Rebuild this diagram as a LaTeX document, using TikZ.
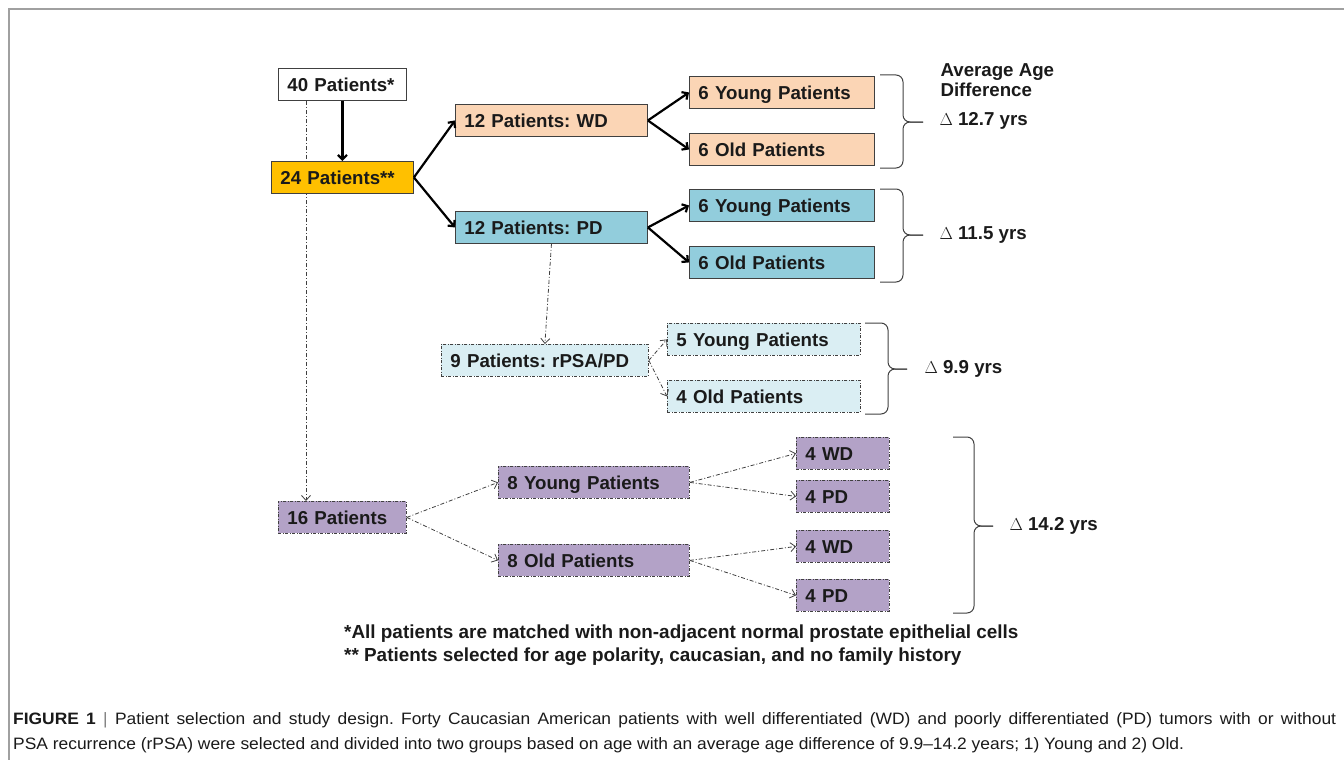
\documentclass[tikz,border=0pt]{standalone}
\usepackage{fontspec}
\setmainfont{Liberation Sans}
\newfontfamily\capfont[FakeStretch=1.055]{Liberation Sans}
\usetikzlibrary{arrows.meta,calc}
\frenchspacing

\definecolor{boxline}{HTML}{404040}
\definecolor{txtdark}{HTML}{1A1A1A}
\definecolor{gold}{HTML}{FFC000}
\definecolor{peach}{HTML}{FBD5B5}
\definecolor{pdblue}{HTML}{92CDDC}
\definecolor{rpsablue}{HTML}{DAEEF3}
\definecolor{lilac}{HTML}{B3A2C7}
\definecolor{framegray}{HTML}{A0A0A0}

\begin{document}
\begin{tikzpicture}[x=1pt, y=-1pt]
    \tikzstyle{pbox}=[draw=boxline, line width=0.9pt, anchor=north west, minimum height=32pt,
        inner xsep=9pt, inner ysep=0pt, text height=13.4pt, text depth=0pt, align=left,
        text=txtdark, font=\bfseries\fontsize{18.7}{20}\selectfont]
    \tikzstyle{dbox}=[pbox, dash pattern=on 3pt off 1.5pt on 1pt off 1.5pt, line width=0.8pt]
    \tikzstyle{marr}=[line width=2.2pt, -{Straight Barb[length=4.5pt,width=9pt]}]
    \tikzstyle{darr}=[line width=0.8pt, draw=boxline, dash pattern=on 4pt off 2pt on 1pt off 2pt,
        -{Straight Barb[length=5pt,width=9pt]}]
    \tikzstyle{agebr}=[line width=1pt, draw=boxline, rounded corners=7pt]
    \tikzstyle{agetxt}=[anchor=west, text=txtdark, font=\bfseries\fontsize{18.7}{20}\selectfont]
    \tikzstyle{notetxt}=[anchor=west, text=txtdark, inner sep=0pt, font=\bfseries\fontsize{18.9}{20}\selectfont]
    \tikzstyle{captxt}=[anchor=west, text=txtdark, inner sep=0pt, font=\capfont\fontsize{16.5}{18}\selectfont]

    \useasboundingbox (0,0) rectangle (1344,760);
    \draw[framegray, line width=1.5pt] (9,760) -- (9,9) -- (1344,9);

    % dash-dot line behind the boxes
    \node[pbox, fill=white, text width=110pt] (p40) at (278,68) {40 Patients*};
    \node[dbox, fill=lilac, text width=110pt] (p16) at (278,501) {16 Patients};
    \draw[darr] ([xshift=28pt]p40.south west) -- ([xshift=28pt]p16.north west);

    \node[pbox, fill=gold, text width=124pt] (p24) at (271,161) {24 Patients**};
    \node[pbox, fill=peach, text width=174pt] (wd) at (455,104) {12 Patients: WD};
    \node[pbox, fill=pdblue, text width=174pt] (pd) at (455,211) {12 Patients: PD};

    \node[pbox, fill=peach, text width=167pt] (wdy) at (689,76) {6 Young Patients};
    \node[pbox, fill=peach, text width=167pt] (wdo) at (689,133) {6 Old Patients};
    \node[pbox, fill=pdblue, text width=167pt] (pdy) at (689,189) {6 Young Patients};
    \node[pbox, fill=pdblue, text width=167pt] (pdo) at (689,246) {6 Old Patients};

    \node[dbox, fill=rpsablue, text width=189pt] (rpsa) at (441,344) {9 Patients: rPSA/PD};
    \node[dbox, fill=rpsablue, text width=175pt] (r5y) at (667,323) {5 Young Patients};
    \node[dbox, fill=rpsablue, text width=175pt] (r4o) at (667,380) {4 Old Patients};

    \node[dbox, fill=lilac, text width=173pt] (y8) at (498,466) {8 Young Patients};
    \node[dbox, fill=lilac, text width=173pt] (o8) at (498,544) {8 Old Patients};
    \node[dbox, fill=lilac, text width=75pt] (ywd) at (796,437) {4 WD};
    \node[dbox, fill=lilac, text width=75pt] (ypd) at (796,480) {4 PD};
    \node[dbox, fill=lilac, text width=75pt] (owd) at (796,530) {4 WD};
    \node[dbox, fill=lilac, text width=75pt] (opd) at (796,579) {4 PD};

    % solid arrows
    \draw[marr] (p40.south) -- (p24.north);
    \draw[marr] (p24.east) -- (wd.west);
    \draw[marr] (p24.east) -- (pd.west);
    \draw[marr] (wd.east) -- (wdy.west);
    \draw[marr] (wd.east) -- (wdo.west);
    \draw[marr] (pd.east) -- (pdy.west);
    \draw[marr] (pd.east) -- (pdo.west);

    % dash-dot arrows
    \draw[darr] (pd.south) -- (rpsa.north);
    \draw[darr] (rpsa.east) -- (r5y.west);
    \draw[darr] (rpsa.east) -- (r4o.west);
    \draw[darr] (p16.east) -- (y8.west);
    \draw[darr] (p16.east) -- (o8.west);
    \draw[darr] (y8.east) -- (ywd.west);
    \draw[darr] (y8.east) -- (ypd.west);
    \draw[darr] (o8.east) -- (owd.west);
    \draw[darr] (o8.east) -- (opd.west);

    % age braces
    \draw[agebr] (880,75) -- (903,75) -- (903,122) -- (923,122);
    \draw[agebr] (880,168) -- (903,168) -- (903,122) -- (923,122);
    \draw[agebr] (880,189) -- (903,189) -- (903,235) -- (923,235);
    \draw[agebr] (880,282) -- (903,282) -- (903,235) -- (923,235);
    \draw[agebr] (865,323) -- (888,323) -- (888,369) -- (907,369);
    \draw[agebr] (865,414) -- (888,414) -- (888,369) -- (907,369);
    \draw[agebr] (953,437) -- (974,437) -- (974,526) -- (993,526);
    \draw[agebr] (953,613) -- (974,613) -- (974,526) -- (993,526);

    \node[agetxt, align=left, anchor=north west, text depth=0pt] (avg) at (937,60)
        {Average Age\\Difference};
    \node[agetxt] (d127) at (936,121) {{\mdseries$\Delta$} 12.7 yrs};
    \node[agetxt] (d115) at (936,235) {{\mdseries$\Delta$} 11.5 yrs};
    \node[agetxt] (d99) at (921,369) {{\mdseries$\Delta$} 9.9 yrs};
    \node[agetxt] (d142) at (1006,526) {{\mdseries$\Delta$} 14.2 yrs};

    % footnotes
    \node[notetxt] (note1) at (344,634) {*All patients are matched with non-adjacent normal prostate epithelial cells};
    \node[notetxt] (note2) at (344,657) {** Patients selected for age polarity, caucasian, and no family history};

    % caption
    \node[captxt] (cap1) at (13,720)
        {\makebox[1323pt][s]{\textbf{FIGURE 1} {\color{gray}|} Patient selection and study design. Forty Caucasian American patients with well differentiated (WD) and poorly differentiated (PD) tumors with or without}};
    \node[captxt] (cap2) at (13,745)
        {PSA recurrence (rPSA) were selected and divided into two groups based on age with an average age difference of 9.9–14.2 years; 1) Young and 2) Old.};
\end{tikzpicture}
\end{document}
